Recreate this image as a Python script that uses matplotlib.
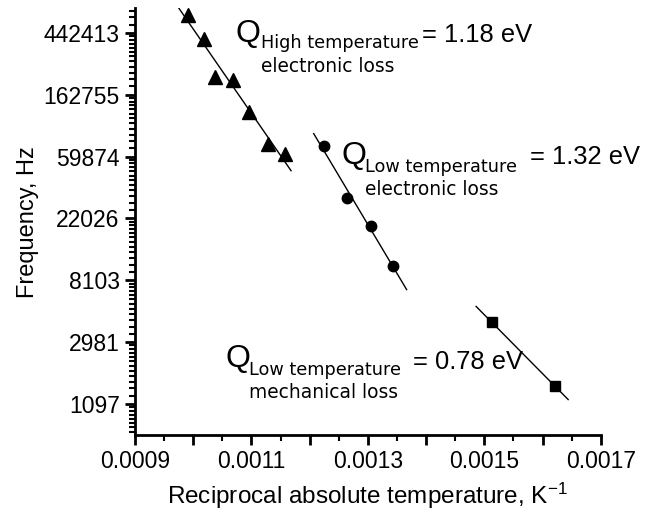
import numpy as np
import matplotlib
matplotlib.use('Agg')
import matplotlib.pyplot as plt
from matplotlib.ticker import FixedLocator, FuncFormatter

plt.rcParams['font.family'] = ['Liberation Sans', 'DejaVu Sans']
plt.rcParams['mathtext.default'] = 'regular'

# data: reciprocal temperature (1/K) and frequency (Hz)
high_x = [0.000991, 0.001018, 0.001037, 0.001068, 0.001096, 0.001128, 0.001158]
high_f = [591000, 400000, 217500, 207000, 123000, 73100, 62300]

low_x = [0.0012245, 0.0012639, 0.0013052, 0.0013429]
low_f = [71000, 30600, 19500, 10200]

mech_x = [0.0015129, 0.0016210]
mech_f = [4105, 1466]

# x extent of each fitted line
high_range = [0.0009756, 0.001168]
low_range = [0.0012069, 0.0013665]
mech_range = [0.0014859, 0.001644]

y_powers = [7, 8, 9, 10, 11, 12, 13]


def fit_line(ax, xs, fs, xr):
    k, b = np.polyfit(xs, np.log(fs), 1)
    xx = np.array(xr)
    ax.plot(xx, np.exp(k * xx + b), color='black', lw=1.0, zorder=2)


fig = plt.figure(figsize=(6.46, 5.12), dpi=100)
ax = fig.add_axes([0.209, 0.150, 0.721, 0.834])

fit_line(ax, high_x, high_f, high_range)
fit_line(ax, low_x, low_f, low_range)
fit_line(ax, mech_x, mech_f, mech_range)
ax.plot(high_x, high_f, '^', color='black', ms=10, zorder=3)
ax.plot(low_x, low_f, 'o', color='black', ms=7.5, zorder=3)
ax.plot(mech_x, mech_f, 's', color='black', ms=7, zorder=3)

ax.set_yscale('log', base=np.e)
ax.set_xlim(0.0009, 0.0017)
ax.set_ylim(np.exp(6.495), np.exp(13.40))

# y ticks at powers of e, minor ticks spaced linearly in between
majors = np.exp(np.array(y_powers, dtype=float))
minors = []
for n in range(6, 14):
    minors.extend(np.linspace(np.exp(n), np.exp(n + 1), 13)[1:-1])
ax.yaxis.set_major_locator(FixedLocator(majors))
ax.yaxis.set_minor_locator(FixedLocator(minors))
ax.yaxis.set_major_formatter(FuncFormatter(lambda v, p: f"{v:.0f}"))
ax.yaxis.set_minor_formatter(FuncFormatter(lambda v, p: ""))

xmaj = np.round(np.arange(0.0009, 0.00171, 0.0001), 5)
xmin = np.round(np.arange(0.00095, 0.0017, 0.0001), 5)
ax.xaxis.set_major_locator(FixedLocator(xmaj))
ax.xaxis.set_minor_locator(FixedLocator(xmin))
ax.xaxis.set_major_formatter(FuncFormatter(
    lambda v, p: f"{v:.4f}" if round((v - 0.0009) / 0.0002, 3) % 1 == 0 else ""))

for s in ['top', 'right']:
    ax.spines[s].set_visible(False)
for s in ['left', 'bottom']:
    ax.spines[s].set_linewidth(2)
ax.tick_params(which='major', length=7, width=2, labelsize=16.5, pad=4)
ax.tick_params(which='minor', length=4, width=1.5)

ax.set_ylabel('Frequency, Hz', fontsize=17, labelpad=3)
ax.set_xlabel('Reciprocal absolute temperature, K$^{\u22121}$', fontsize=17.5, labelpad=5)

# activation energy labels (x in 1/K, y as ln of frequency)
labels = [
    (0.001072, 12.86, 0.001116, 12.75, 0.001393, 12.86, 12.37,
     'High temperature', '= 1.18 eV', 'electronic loss'),
    (0.001255, 10.88, 0.001295, 10.756, 0.001579, 10.88, 10.379,
     'Low temperature', '= 1.32 eV', 'electronic loss'),
    (0.001056, 7.595, 0.001096, 7.466, 0.001378, 7.563, 7.094,
     'Low temperature', '= 0.78 eV', 'mechanical loss'),
]
small = ['DejaVu Sans']
for qx, qy, sx, sy, ex, ey, ly, sub, val, line2 in labels:
    ax.text(qx, np.exp(qy), 'Q', fontsize=23, va='baseline', ha='left')
    ax.text(sx, np.exp(sy), sub, fontsize=12.7, family=small, va='baseline', ha='left')
    ax.text(ex, np.exp(ey), val, fontsize=18.4, va='baseline', ha='left')
    ax.text(sx, np.exp(ly), line2, fontsize=13.4, family=small, va='baseline', ha='left')

fig.savefig('out.png', dpi=100)
